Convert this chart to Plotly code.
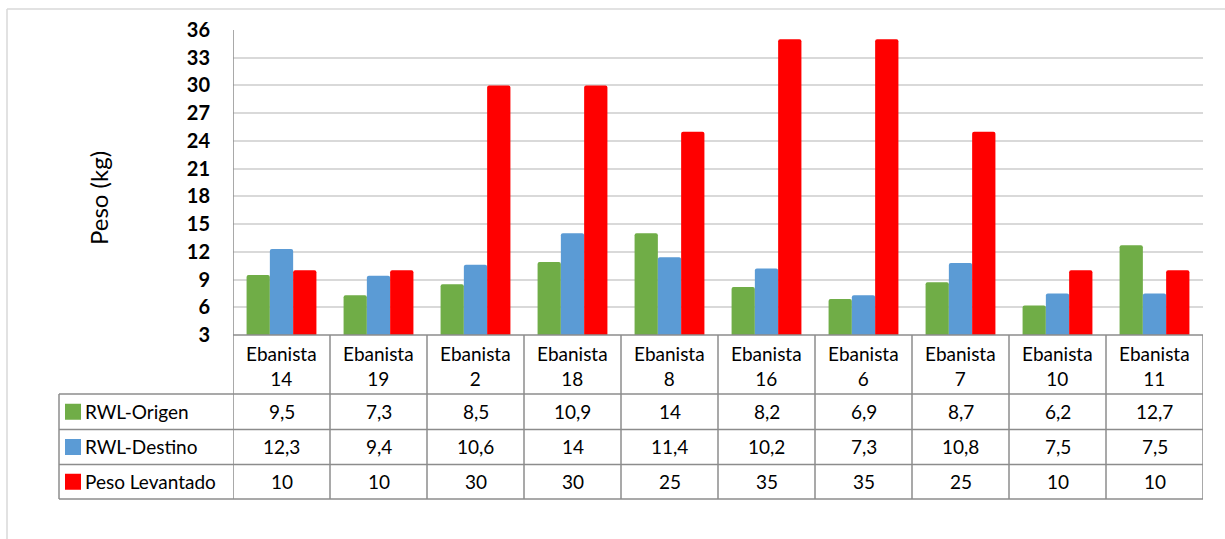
import plotly.graph_objects as go

# Categories and series
categories = ["Ebanista 14", "Ebanista 19", "Ebanista 2", "Ebanista 18", "Ebanista 8",
              "Ebanista 16", "Ebanista 6", "Ebanista 7", "Ebanista 10", "Ebanista 11"]
rwl_origen = [9.5, 7.3, 8.5, 10.9, 14, 8.2, 6.9, 8.7, 6.2, 12.7]
rwl_destino = [12.3, 9.4, 10.6, 14, 11.4, 10.2, 7.3, 10.8, 7.5, 7.5]
peso_levantado = [10, 10, 30, 30, 25, 35, 35, 25, 10, 10]

series_names = ["RWL-Origen", "RWL-Destino", "Peso Levantado"]
series_values = [rwl_origen, rwl_destino, peso_levantado]
series_colors = ["#70AD47", "#5B9BD5", "#FF0000"]

W, H = 1225, 539
ML, MR, MT, MB = 233, 22, 30, 204
PW, PH = W - ML - MR, H - MT - MB
FONT = "Lato, Open Sans, sans-serif"
GRID = "#d9d9d9"
TABLE_LINE = "#8c8c8c"
TXT = 19


def py(pix):
    """pixel row -> paper y"""
    return (H - MB - pix) / PH


def px(pix):
    """pixel column -> paper x"""
    return (pix - ML) / PW


def fmt(v):
    return f"{v:g}".replace(".", ",")


fig = go.Figure()
for name, vals, col in zip(series_names, series_values, series_colors):
    fig.add_trace(go.Bar(x=list(range(len(categories))), y=vals, name=name,
                         marker=dict(color=col, line=dict(width=0), cornerradius=2),
                         showlegend=False))

shapes = []
annotations = []

# outer chart frame (top and left edges visible)
shapes.append(dict(type="line", xref="paper", yref="paper", x0=px(7), x1=px(1230),
                   y0=py(9), y1=py(9), line=dict(color=GRID, width=1.5)))
shapes.append(dict(type="line", xref="paper", yref="paper", x0=px(7), x1=px(7),
                   y0=py(9), y1=py(545), line=dict(color=GRID, width=1.5)))

# data-table rows (pixel boundaries)
row_cat_top, row_cat_bot = 335, 394
row_bounds = [394, 429.5, 464.5, 499]
left_edge = 59

# horizontal table lines
shapes.append(dict(type="line", xref="x", yref="paper", x0=-0.5, x1=len(categories) - 0.5,
                   y0=py(row_cat_top), y1=py(row_cat_top), line=dict(color=TABLE_LINE, width=1.5)))
for yb in row_bounds:
    shapes.append(dict(type="line", xref="paper", yref="paper", x0=px(left_edge), x1=1,
                       y0=py(yb), y1=py(yb), line=dict(color=TABLE_LINE, width=1.5)))

# vertical table lines
shapes.append(dict(type="line", xref="paper", yref="paper", x0=px(left_edge), x1=px(left_edge),
                   y0=py(row_bounds[0]), y1=py(row_bounds[-1]), line=dict(color=TABLE_LINE, width=1.5)))
for k in range(len(categories) + 1):
    shapes.append(dict(type="line", xref="x", yref="paper", x0=k - 0.5, x1=k - 0.5,
                       y0=py(row_cat_top), y1=py(row_bounds[-1]), line=dict(color=TABLE_LINE, width=1.5)))
# left axis line of plot area
shapes.append(dict(type="line", xref="x", yref="paper", x0=-0.5, x1=-0.5,
                   y0=1, y1=0, line=dict(color=TABLE_LINE, width=1.5)))

# category header cells
for i, c in enumerate(categories):
    word, num = c.split(" ")
    annotations.append(dict(x=i, y=py((row_cat_top + row_cat_bot) / 2 + 1), xref="x", yref="paper",
                            text=f"{word}<br>{num}", showarrow=False,
                            font=dict(family=FONT, size=TXT, color="#000"),
                            align="center", xanchor="center", yanchor="middle"))

# series rows: legend key, name, values
for r, (name, vals, col) in enumerate(zip(series_names, series_values, series_colors)):
    y_top, y_bot = row_bounds[r], row_bounds[r + 1]
    yc = (y_top + y_bot) / 2
    shapes.append(dict(type="rect", xref="paper", yref="paper", x0=px(65), x1=px(81),
                       y0=py(yc - 8), y1=py(yc + 8), fillcolor=col, line=dict(width=0)))
    annotations.append(dict(x=px(83), y=py(yc), xref="paper", yref="paper", text=name,
                            showarrow=False, xanchor="left", yanchor="middle",
                            font=dict(family=FONT, size=TXT, color="#000")))
    for i, v in enumerate(vals):
        annotations.append(dict(x=i, y=py(yc), xref="x", yref="paper", text=fmt(v),
                                showarrow=False, xanchor="center", yanchor="middle",
                                font=dict(family=FONT, size=TXT, color="#000")))

# y-axis title
annotations.append(dict(x=px(98), y=py(198), xref="paper", yref="paper", text="Peso (kg)",
                        textangle=-90, showarrow=False, xanchor="center", yanchor="middle",
                        font=dict(family=FONT, size=24, color="#000")))

fig.update_layout(
    width=W, height=H,
    margin=dict(l=ML, r=MR, t=MT, b=MB, pad=0),
    paper_bgcolor="white", plot_bgcolor="white",
    barmode="group", bargap=0.28, bargroupgap=0,
    shapes=shapes, annotations=annotations,
    xaxis=dict(range=[-0.5, len(categories) - 0.5], showticklabels=False, showgrid=False,
               zeroline=False, showline=False, ticks=""),
    yaxis=dict(range=[3, 36], tick0=3, dtick=3, showgrid=True, gridcolor=GRID, gridwidth=1.5,
               zeroline=False, showline=False, ticks="", ticklabelstandoff=22,
               tickfont=dict(family=FONT, size=20, color="#000", weight="bold")),
)

fig.write_html("out.html")
